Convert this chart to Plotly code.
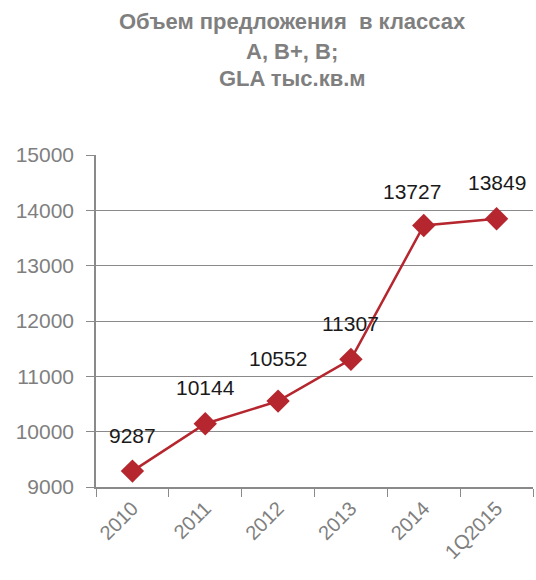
import plotly.graph_objects as go

categories = ["2010", "2011", "2012", "2013", "2014", "1Q2015"]
values = [9287, 10144, 10552, 11307, 13727, 13849]
title_lines = ["Объем предложения  в классах", "A, B+, B;", "GLA тыс.кв.м"]

RED = "#B5262E"
GRAY = "#7F7F7F"
FONT = "Liberation Sans, Arial, sans-serif"

idx = list(range(len(categories)))

fig = go.Figure()
fig.add_trace(go.Scatter(
    x=idx, y=values, mode="lines+markers",
    line=dict(color=RED, width=2.5),
    marker=dict(symbol="diamond", size=18, color=RED),
    hoverinfo="skip", showlegend=False,
))

# label offsets (style only)
label_xshift = [0, 0, 0, 0, -12, 0]
label_yshift = [36, 36, 43, 36, 34, 36]
for i, v, dx, dy in zip(idx, values, label_xshift, label_yshift):
    fig.add_annotation(x=i, y=v, text=str(v), showarrow=False,
                       xshift=dx, yshift=dy,
                       font=dict(family=FONT, size=21, color="#1a1a1a"))

# title lines as annotations (paper coords)
title_y = [1.402, 1.312, 1.230]
for t, ty in zip(title_lines, title_y):
    fig.add_annotation(x=0.449, y=ty, xref="paper", yref="paper", text="<b>%s</b>" % t,
                       showarrow=False, xanchor="center", yanchor="middle",
                       font=dict(family=FONT, size=22, color=GRAY))

fig.update_layout(
    width=536, height=580,
    margin=dict(l=96, r=3, t=155, b=93),
    paper_bgcolor="white", plot_bgcolor="white",
    font=dict(family=FONT, color=GRAY),
)
fig.update_xaxes(
    tickmode="array", tickvals=idx, ticktext=categories,
    ticks="", showline=True, linecolor="#8a8a8a", linewidth=1.5,
    showgrid=False, tickangle=-45, tickfont=dict(size=20, color=GRAY),
    range=[-0.5, 5.5], zeroline=False,
)
# boundary tick marks via minor ticks
fig.update_xaxes(minor=dict(tickmode="array", tickvals=[i - 0.5 for i in range(len(categories) + 1)],
                            ticks="outside", ticklen=8, tickcolor="#8a8a8a", showgrid=False))
fig.update_yaxes(
    range=[9000, 15000], dtick=1000, tickformat="d", ticks="outside", ticklen=8,
    tickcolor="#8a8a8a", showline=True, linecolor="#8a8a8a", linewidth=1.5,
    showgrid=True, gridcolor="#8a8a8a", gridwidth=1, ticklabelstandoff=8,
    tickfont=dict(size=21, color=GRAY), zeroline=False,
)

fig.write_html("out.html")
